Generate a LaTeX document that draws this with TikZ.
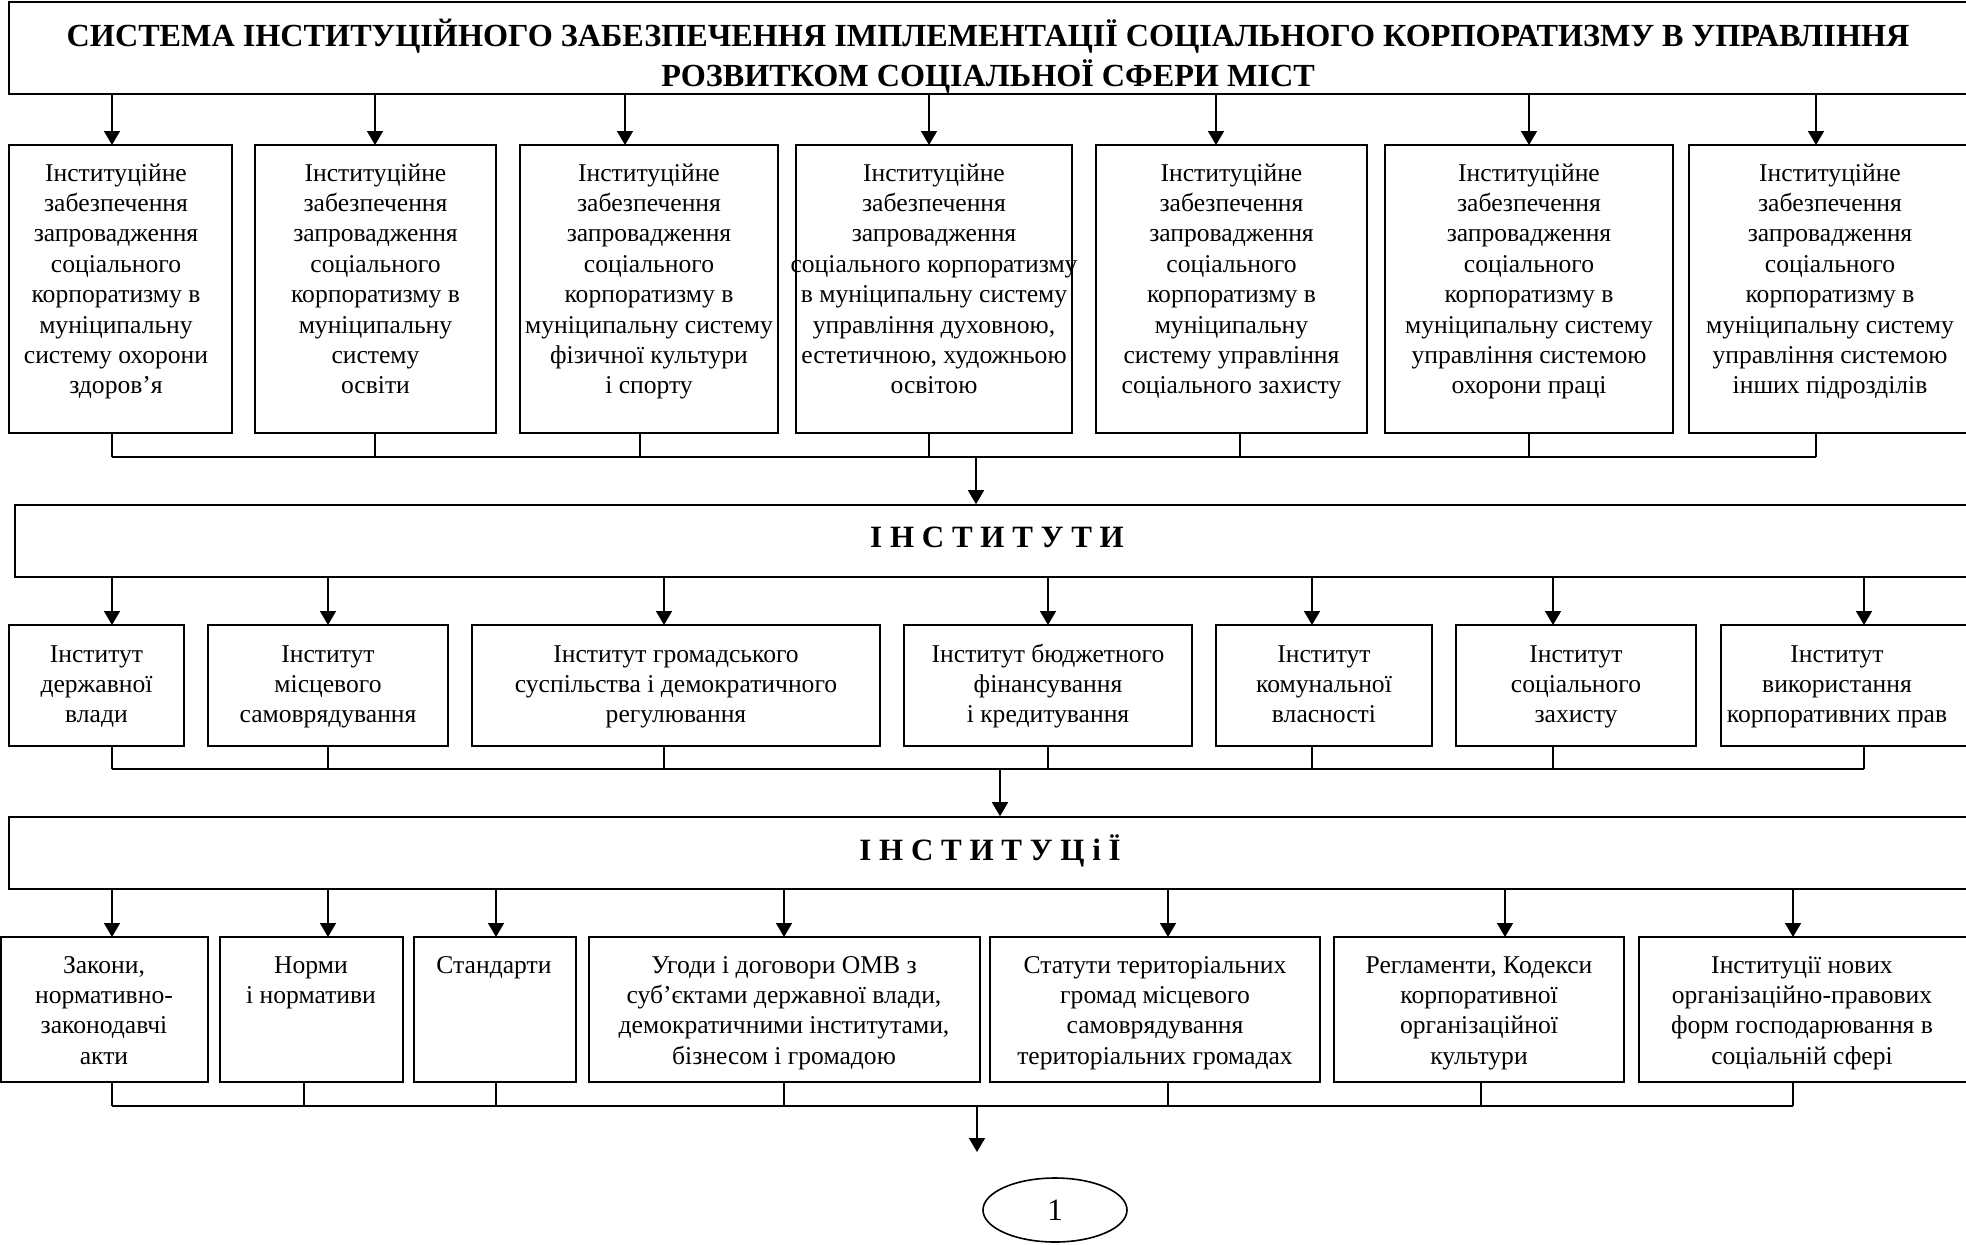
\documentclass[tikz,border=0pt]{standalone}
\usepackage{fontspec}
\setmainfont{Liberation Serif}
\usetikzlibrary{arrows.meta,shapes.geometric}
\newcommand{\bodyfont}{\fontsize{12.8}{15.2}\selectfont}
\newcommand{\titlefont}{\fontsize{16.1}{17.5}\selectfont\bfseries}
\newcommand{\headfont}{\fontsize{15.5}{18}\selectfont\bfseries}
\newcommand{\mkbox}[5]{\node[box, minimum width={(#3-#2)*0.5pt}, minimum height={(#5-#4)*0.5pt}] (#1) at ({(#2+#3)/2},{(#4+#5)/2}) {};}
\newcommand{\mktext}[4]{\node[txt] (#1) at (#2,#3) {\strut #4};}
\begin{document}
\begin{tikzpicture}[x=0.5pt,y=-0.5pt, line width=0.8pt,
  box/.style={draw, rectangle, inner sep=0pt},
  txt/.style={inner sep=0pt, anchor=north, align=center, font=\bodyfont},
  arr/.style={-{Triangle[length=7pt,width=8pt]}}]
\useasboundingbox (0,0) rectangle (1966,1244);
\fill[white] (0,0) rectangle (1966,1244);
\clip (0,0) rectangle (1966,1244);

% ---------- title ----------
\mkbox{title}{9}{1972}{2}{94}
\node[inner sep=0pt, anchor=north, align=center, font=\titlefont] (ttl) at (988,18.5)
  {\strut СИСТЕМА ІНСТИТУЦІЙНОГО ЗАБЕЗПЕЧЕННЯ ІМПЛЕМЕНТАЦІЇ СОЦІАЛЬНОГО КОРПОРАТИЗМУ В УПРАВЛІННЯ\\РОЗВИТКОМ СОЦІАЛЬНОЇ СФЕРИ МІСТ};

% ---------- row 1 ----------
\mkbox{r1b1}{9}{232}{145}{433}
\mkbox{r1b2}{255}{496}{145}{433}
\mkbox{r1b3}{520}{778}{145}{433}
\mkbox{r1b4}{796}{1072}{145}{433}
\mkbox{r1b5}{1096}{1367}{145}{433}
\mkbox{r1b6}{1385}{1673}{145}{433}
\mkbox{r1b7}{1689}{1972}{145}{433}

\mktext{r1t1}{116}{159}{Інституційне\\забезпечення\\запровадження\\соціального\\корпоратизму в\\муніципальну\\систему охорони\\здоров’я}
\mktext{r1t2}{375.5}{159}{Інституційне\\забезпечення\\запровадження\\соціального\\корпоратизму в\\муніципальну\\систему\\освіти}
\mktext{r1t3}{649}{159}{Інституційне\\забезпечення\\запровадження\\соціального\\корпоратизму в\\муніципальну систему\\фізичної культури\\і спорту}
\mktext{r1t4}{934}{159}{Інституційне\\забезпечення\\запровадження\\соціального корпоратизму\\в муніципальну систему\\управління духовною,\\естетичною, художньою\\освітою}
\mktext{r1t5}{1231.5}{159}{Інституційне\\забезпечення\\запровадження\\соціального\\корпоратизму в\\муніципальну\\систему управління\\соціального захисту}
\mktext{r1t6}{1529}{159}{Інституційне\\забезпечення\\запровадження\\соціального\\корпоратизму в\\муніципальну систему\\управління системою\\охорони праці}
\mktext{r1t7}{1830}{159}{Інституційне\\забезпечення\\запровадження\\соціального\\корпоратизму в\\муніципальну систему\\управління системою\\інших підрозділів}

\coordinate (a11) at (112,145);
\coordinate (a12) at (375,145);
\coordinate (a13) at (625,145);
\coordinate (a14) at (929,145);
\coordinate (a15) at (1216,145);
\coordinate (a16) at (1529,145);
\coordinate (a17) at (1816,145);
\foreach \i in {1,...,7} {\draw[arr] (title.south -| a1\i) -- (a1\i);}

\coordinate (s11) at (112,433);
\coordinate (s12) at (375,433);
\coordinate (s13) at (640,433);
\coordinate (s14) at (929,433);
\coordinate (s15) at (1240,433);
\coordinate (s16) at (1529,433);
\coordinate (s17) at (1816,433);
\coordinate (bus1) at (112,457);
\coordinate (m1) at (976,457);
\draw (bus1) -- (bus1 -| s17);
\foreach \i in {1,...,7} {\draw (s1\i) -- (s1\i |- bus1);}

% ---------- ІНСТИТУТИ ----------
\mkbox{inst}{15}{1972}{505}{577}
\node[inner sep=0pt, anchor=base, font=\headfont] (instt) at (997,547) {І Н С Т И Т У Т И};
\draw[arr] (m1) -- (m1 |- inst.north);

% ---------- row 2 ----------
\mkbox{r2b1}{9}{184}{625}{746}
\mkbox{r2b2}{208}{448}{625}{746}
\mkbox{r2b3}{472}{880}{625}{746}
\mkbox{r2b4}{904}{1192}{625}{746}
\mkbox{r2b5}{1216}{1432}{625}{746}
\mkbox{r2b6}{1456}{1696}{625}{746}
\mkbox{r2b7}{1721}{1972}{625}{746}

\mktext{r2t1}{96.5}{640}{Інститут\\державної\\влади}
\mktext{r2t2}{328}{640}{Інститут\\місцевого\\самоврядування}
\mktext{r2t3}{676}{640}{Інститут громадського\\суспільства і демократичного\\регулювання}
\mktext{r2t4}{1048}{640}{Інститут бюджетного\\фінансування\\і кредитування}
\mktext{r2t5}{1324}{640}{Інститут\\комунальної\\власності}
\mktext{r2t6}{1576}{640}{Інститут\\соціального\\захисту}
\mktext{r2t7}{1837}{640}{Інститут\\використання\\корпоративних прав}

\coordinate (a21) at (112,625);
\coordinate (a22) at (328,625);
\coordinate (a23) at (664,625);
\coordinate (a24) at (1048,625);
\coordinate (a25) at (1312,625);
\coordinate (a26) at (1553,625);
\coordinate (a27) at (1864,625);
\foreach \i in {1,...,7} {\draw[arr] (inst.south -| a2\i) -- (a2\i);}

\coordinate (bus2) at (112,769);
\coordinate (m2) at (1000,769);
\draw (bus2) -- (bus2 -| a27);
\foreach \i in {1,...,7} {\draw (a2\i |- r2b1.south) -- (a2\i |- bus2);}

% ---------- ІНСТИТУЦіЇ ----------
\mkbox{instc}{9}{1972}{817}{889}
\node[inner sep=0pt, anchor=base, font=\headfont] (instct) at (990,860) {І Н С Т И Т У Ц і Ї};
\draw[arr] (m2) -- (m2 |- instc.north);

% ---------- row 3 ----------
\mkbox{r3b1}{1}{208}{937}{1082}
\mkbox{r3b2}{220}{403}{937}{1082}
\mkbox{r3b3}{414}{576}{937}{1082}
\mkbox{r3b4}{589}{980}{937}{1082}
\mkbox{r3b5}{990}{1320}{937}{1082}
\mkbox{r3b6}{1334}{1624}{937}{1082}
\mkbox{r3b7}{1639}{1972}{937}{1082}

\mktext{r3t1}{104}{951}{Закони,\\нормативно-\\законодавчі\\акти}
\mktext{r3t2}{311}{951}{Норми\\і нормативи}
\mktext{r3t3}{494}{951}{Стандарти}
\mktext{r3t4}{784}{951}{Угоди і договори ОМВ з\\суб’єктами державної влади,\\демократичними інститутами,\\бізнесом і громадою}
\mktext{r3t5}{1155}{951}{Статути територіальних\\громад місцевого\\самоврядування\\територіальних громадах}
\mktext{r3t6}{1479}{951}{Регламенти, Кодекси\\корпоративної\\організаційної\\культури}
\mktext{r3t7}{1802}{951}{Інституції нових\\організаційно-правових\\форм господарювання в\\соціальній сфері}

\coordinate (a31) at (112,937);
\coordinate (a32) at (328,937);
\coordinate (a33) at (496,937);
\coordinate (a34) at (784,937);
\coordinate (a35) at (1168,937);
\coordinate (a36) at (1505,937);
\coordinate (a37) at (1793,937);
\foreach \i in {1,...,7} {\draw[arr] (instc.south -| a3\i) -- (a3\i);}

\coordinate (s31) at (112,1082);
\coordinate (s32) at (304,1082);
\coordinate (s33) at (496,1082);
\coordinate (s34) at (784,1082);
\coordinate (s35) at (1168,1082);
\coordinate (s36) at (1481,1082);
\coordinate (s37) at (1793,1082);
\coordinate (bus3) at (112,1106);
\coordinate (m3) at (977,1106);
\draw (bus3) -- (bus3 -| s37);
\foreach \i in {1,...,7} {\draw (s3\i) -- (s3\i |- bus3);}

% ---------- final ----------
\node[draw, ellipse, inner sep=0pt, minimum width=72pt, minimum height=32pt, font=\fontsize{15.5}{18}\selectfont] (one) at (1055,1210) {1};
\coordinate (t3) at (977,1152);
\draw[arr] (m3) -- (t3);
\end{tikzpicture}
\end{document}
